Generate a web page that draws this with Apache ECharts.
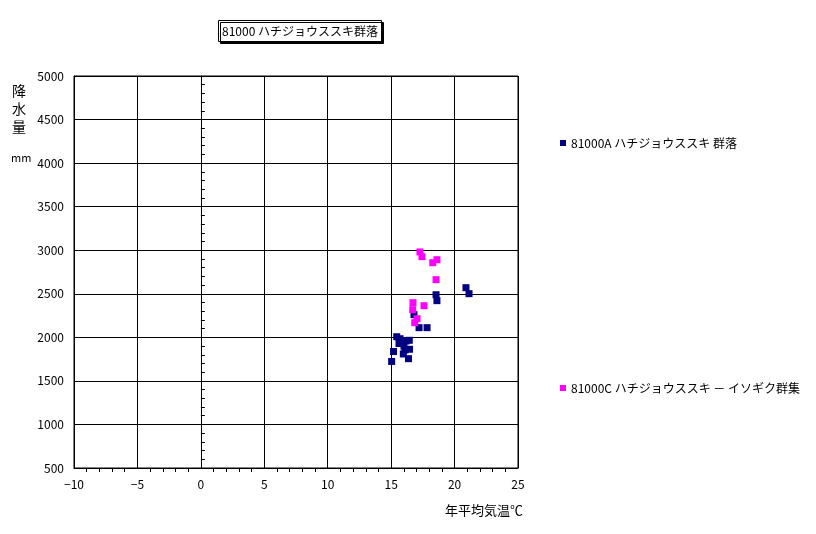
<!DOCTYPE html>
<html>
<head>
<meta charset="utf-8">
<script src="https://cdn.jsdelivr.net/npm/echarts@6/dist/echarts.min.js"></script>
<style>html,body{margin:0;padding:0;background:#fff;}#c{width:816px;height:534px;}</style>
</head>
<body>
<div id="c"></div>
<script>
const titleText = '81000 ハチジョウススキ群落';
const seriesNames = ['81000A ハチジョウススキ 群落', '81000C ハチジョウススキ － イソギク群集'];
const xTicks = [-10, -5, 0, 5, 10, 15, 20, 25];
const yTicks = [500, 1000, 1500, 2000, 2500, 3000, 3500, 4000, 4500, 5000];
const seriesA = [
  [20.9, 2570], [21.14, 2501], [18.54, 2489], [18.61, 2421], [16.8, 2260],
  [17.2, 2111], [17.83, 2111], [15.44, 2007], [15.7, 1984], [16.43, 1966],
  [16.17, 1958], [15.62, 1929], [16.01, 1900], [16.45, 1863], [16.09, 1855],
  [15.19, 1837], [15.96, 1809], [16.37, 1755], [15.04, 1723]
];
const seriesC = [
  [17.27, 2980], [17.43, 2926], [18.61, 2891], [18.28, 2857], [18.54, 2662],
  [16.72, 2398], [17.59, 2363], [16.7, 2317], [17.04, 2214], [16.86, 2168]
];
const font = "'Noto Sans CJK JP', 'Noto Sans', sans-serif";
const chart = echarts.init(document.getElementById('c'));
chart.setOption({
  animation: false,
  backgroundColor: '#fff',
  textStyle: { fontFamily: font, color: '#000' },
  title: {
    text: titleText, left: 218, top: 20,
    padding: [5, 4],
    borderColor: '#000', borderWidth: 1, backgroundColor: '#fff',
    shadowColor: '#000', shadowOffsetX: 2, shadowOffsetY: 2, shadowBlur: 0,
    textStyle: { fontSize: 12, fontWeight: 'normal', color: '#000', fontFamily: font }
  },
  legend: [
    { data: [seriesNames[0]], left: 555, top: 132, orient: 'vertical', itemWidth: 6, itemHeight: 6,
      icon: 'rect', itemGap: 4, textStyle: { fontSize: 12, color: '#000', fontFamily: font } },
    { data: [seriesNames[1]], left: 555, top: 377, orient: 'vertical', itemWidth: 6, itemHeight: 6,
      icon: 'rect', itemGap: 4, textStyle: { fontSize: 12, color: '#000', fontFamily: font } }
  ],
  grid: { left: 74, right: 298, top: 76, bottom: 66, show: true, borderColor: '#000', borderWidth: 1, backgroundColor: 'transparent' },
  xAxis: {
    type: 'value', min: xTicks[0], max: xTicks[xTicks.length - 1], interval: 5,
    axisLine: { onZero: false, lineStyle: { color: '#000' } },
    axisTick: { show: false },
    minorTick: { show: true, splitNumber: 5, length: 4, lineStyle: { color: '#000' } },
    splitLine: { show: true, lineStyle: { color: '#000', width: 1 } },
    axisLabel: { margin: 10, fontSize: 12, color: '#000', fontFamily: font,
      formatter: v => (v < 0 ? '\u2212' + Math.abs(v) : String(v)) }
  },
  yAxis: [
    {
      type: 'value', min: yTicks[0], max: yTicks[yTicks.length - 1], interval: 500, position: 'left',
      axisLine: { show: true, onZero: false, lineStyle: { color: '#000' } },
      axisTick: { show: false },
      splitLine: { show: true, lineStyle: { color: '#000', width: 1 } },
      axisLabel: { margin: 10, fontSize: 12, color: '#000', fontFamily: font, formatter: v => String(v) }
    },
    {
      type: 'value', min: yTicks[0], max: yTicks[yTicks.length - 1], interval: 500, position: 'left',
      axisLine: { show: true, onZero: true, lineStyle: { color: '#000' } },
      axisTick: { show: true, inside: true, length: 4, lineStyle: { color: '#000' } },
      minorTick: { show: true, splitNumber: 5, length: 4, lineStyle: { color: '#000' } },
      splitLine: { show: false },
      axisLabel: { show: false }
    }
  ],
  graphic: [
    { type: 'text', left: 12, top: 82, style: { text: '降\n水\n量', font: '14px ' + font, lineHeight: 18, fill: '#000' } },
    { type: 'text', left: 11, top: 152, style: { text: 'mm', font: '11px ' + font, fill: '#000' } },
    { type: 'text', left: 445, top: 504, style: { text: '年平均気温℃', font: '13px ' + font, fill: '#000' } }
  ],
  series: [
    { name: seriesNames[0], type: 'scatter', data: seriesA, symbol: 'rect', symbolSize: 7,
      itemStyle: { color: '#000080', opacity: 1 }, xAxisIndex: 0, yAxisIndex: 0 },
    { name: seriesNames[1], type: 'scatter', data: seriesC, symbol: 'rect', symbolSize: 7,
      itemStyle: { color: '#FF00FF', opacity: 1 }, xAxisIndex: 0, yAxisIndex: 0 }
  ]
});
</script>
</body>
</html>
